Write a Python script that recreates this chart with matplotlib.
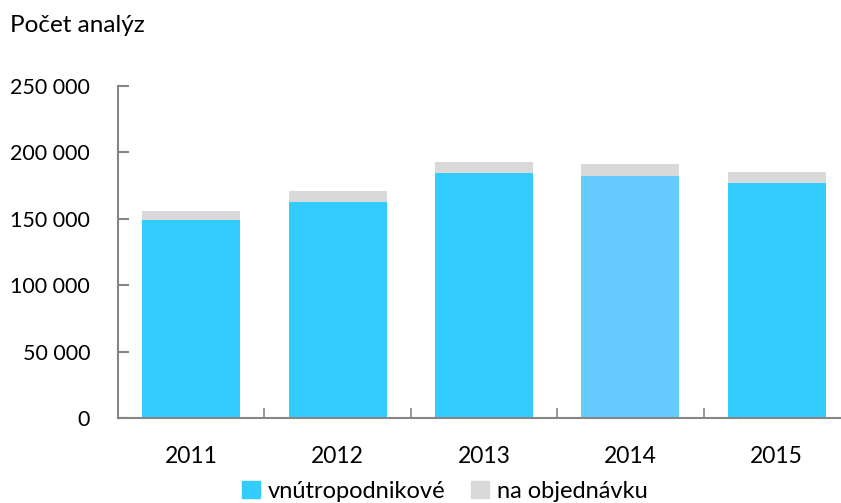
import numpy as np
from matplotlib import pyplot as plt
from matplotlib.patches import Patch

plt.rcParams['font.family'] = ['Lato', 'DejaVu Sans']

years = ['2011', '2012', '2013', '2014', '2015']
internal = [148900, 162900, 184500, 182200, 177000]
external = [6700, 8000, 8000, 8800, 8500]
internal_colors = ['#33CCFF', '#33CCFF', '#33CCFF', '#66CCFF', '#33CCFF']
blue = '#33CCFF'
grey = '#D9D9D9'
axis_col = '#868686'


def fmt(v):
    return '{:,}'.format(int(v)).replace(',', ' ')


fig = plt.figure(figsize=(8.41, 5.03), dpi=100)
ax = fig.add_axes([118 / 841, 85 / 503, 732 / 841, 332 / 503])

x = np.arange(len(years))
ax.bar(x, internal, width=0.67, color=internal_colors, zorder=2)
ax.bar(x, external, bottom=internal, width=0.67, color=grey, zorder=2)

ax.set_xlim(-0.5, len(years) - 0.5)
ax.set_ylim(0, 250000)
yt = np.arange(0, 250001, 50000)
ax.set_yticks(yt)
ax.set_yticklabels([fmt(v) for v in yt], fontsize=15.5)
ax.set_xticks(x)
ax.set_xticklabels(years, fontsize=16.5)
ax.set_xticks(np.arange(-0.5, len(years), 1.0), minor=True)

for s in ['top', 'right']:
    ax.spines[s].set_visible(False)
for s in ['left', 'bottom']:
    ax.spines[s].set_color(axis_col)
    ax.spines[s].set_linewidth(1.5)

ax.tick_params(axis='y', direction='in', length=8, width=1.5, color=axis_col, pad=20)
ax.tick_params(axis='x', which='major', length=0, pad=20)
ax.tick_params(axis='x', which='minor', direction='in', length=7, width=1.2, color=axis_col)

fig.text(10 / 841, 1 - 25 / 503, 'Počet analýz', fontsize=17.5, va='center', ha='left')

handles = [Patch(color=blue, label='vnútropodnikové'),
           Patch(color=grey, label='na objednávku')]
fig.legend(handles=handles, loc='center', bbox_to_anchor=(445 / 841, 1 - 491 / 503),
           ncol=2, frameon=False, fontsize=17, handlelength=0.75, handleheight=0.75,
           handletextpad=0.35, columnspacing=1.1, borderpad=0)

fig.savefig('out.png', dpi=100)
